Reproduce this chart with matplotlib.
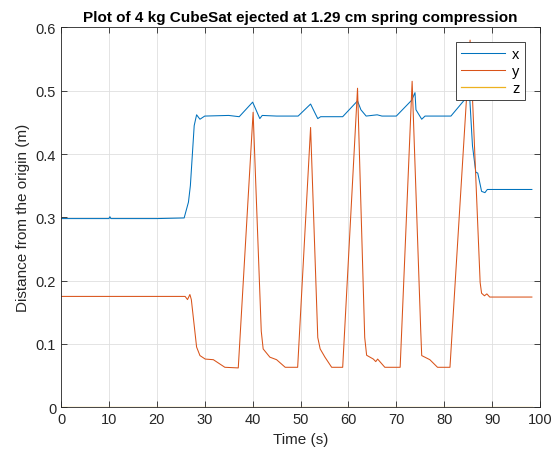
import matplotlib
matplotlib.use("Agg")
import matplotlib.pyplot as plt

plt.rcParams["font.family"] = ["Liberation Sans", "DejaVu Sans"]

# breakpoints (time in s, distance in m)
t_x = [0, 10, 10.2, 10.4, 20, 25.7, 26.6, 27.0, 27.8, 28.3, 29.0, 30, 35, 37.2,
       40.0, 41.5, 42, 45, 49.5, 52.1, 53.2, 53.6, 54.2, 55, 58.8, 61.9,
       62.6, 63.7, 66, 67, 70, 73.2, 73.9, 74.1, 75.3, 76, 81.4, 84.5,
       85.3, 85.9, 86.6, 87.0, 87.8, 88.5, 89, 98.3]
x_vals = [0.298, 0.298, 0.301, 0.298, 0.298, 0.299, 0.324, 0.35, 0.445, 0.462,
          0.455, 0.46, 0.461, 0.459, 0.482, 0.456, 0.461, 0.460, 0.460,
          0.479, 0.462, 0.456, 0.459, 0.459, 0.459, 0.484, 0.470, 0.46,
          0.462, 0.46, 0.46, 0.485, 0.497, 0.47, 0.455, 0.46, 0.46, 0.488,
          0.492, 0.413, 0.371, 0.370, 0.341, 0.339, 0.344, 0.344]

t_y = [0, 10, 20, 25.9, 26.4, 26.9, 27.2, 28.3, 29.0, 30.1, 31.8, 34.2,
       37.0, 40.1, 41.8, 42.2, 43.6, 45.0, 46.8, 49.4, 52.1, 53.6, 54.1,
       55.1, 56.5, 58.8, 61.9, 63.4, 63.8, 65.2, 65.7, 66.1, 67.6, 70.8,
       73.3, 75.1, 75.3, 77.0, 78.6, 81.2, 85.4, 87.5, 87.8, 88.4, 88.9,
       89.5, 98.3]
y_vals = [0.175, 0.175, 0.175, 0.175, 0.170, 0.178, 0.170, 0.095, 0.0815,
          0.076, 0.075, 0.063, 0.062, 0.466, 0.12, 0.092, 0.079, 0.075,
          0.063, 0.063, 0.442, 0.11, 0.092, 0.079, 0.063, 0.063, 0.504,
          0.11, 0.082, 0.076, 0.072, 0.076, 0.063, 0.063, 0.515, 0.12,
          0.0815, 0.075, 0.063, 0.063, 0.58, 0.197, 0.18, 0.176, 0.179,
          0.174, 0.174]

t_z = [0, 98.3]
z_vals = [0.0, 0.0]

x_ticks = [0, 10, 20, 30, 40, 50, 60, 70, 80, 90, 100]
y_ticks = [0, 0.1, 0.2, 0.3, 0.4, 0.5, 0.6]
y_tick_labels = ["0", "0.1", "0.2", "0.3", "0.4", "0.5", "0.6"]

fig = plt.figure(figsize=(5.55, 4.52), dpi=100)
ax = fig.add_axes([0.110, 0.097, 0.863, 0.840])

ax.plot(t_x, x_vals, color="#0072BD", linewidth=0.75, label="x")
ax.plot(t_y, y_vals, color="#D95319", linewidth=0.75, label="y")
ax.plot(t_z, z_vals, color="#EDB120", linewidth=0.9, label="z")

ax.set_xlim(0, 100)
ax.set_ylim(0, 0.6)
ax.set_xticks(x_ticks)
ax.set_yticks(y_ticks)
ax.set_yticklabels(y_tick_labels)
ax.tick_params(direction="in", length=4, top=True, right=True,
               labelsize=10.5, colors="#262626", width=0.6)
for s in ax.spines.values():
    s.set_color("#262626")
    s.set_linewidth(0.6)
ax.grid(True, color="#dfdfdf", linewidth=0.6)
ax.set_axisbelow(True)

ax.set_xlabel("Time (s)", fontsize=11, color="#262626")
ax.set_ylabel("Distance from the origin (m)", fontsize=11, color="#262626")
ax.set_title("Plot of 4 kg CubeSat ejected at 1.29 cm spring compression",
             fontsize=11, fontweight="bold", pad=5)

leg = ax.legend(loc="upper right", bbox_to_anchor=(0.968, 0.962),
                borderaxespad=0, fontsize=10.5, fancybox=False,
                framealpha=1, facecolor="white", edgecolor="#262626",
                handlelength=3.0, handletextpad=0.5, borderpad=0.35,
                labelspacing=0.2)
leg.get_frame().set_linewidth(0.6)
leg.set_zorder(10)

fig.savefig("out.png", dpi=100)
